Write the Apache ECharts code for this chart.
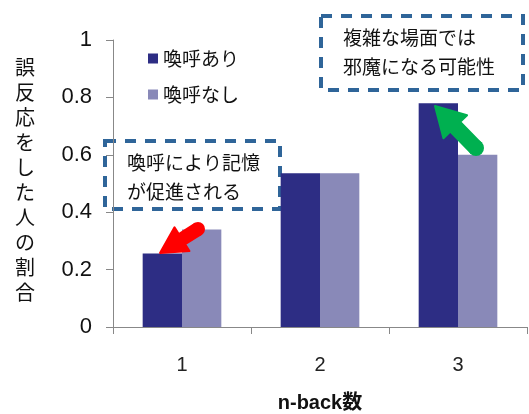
<!DOCTYPE html>
<html>
<head>
<meta charset="utf-8">
<script src="https://cdn.jsdelivr.net/npm/echarts@6/dist/echarts.min.js"></script>
<style>
  html, body { margin: 0; padding: 0; background: #fff; }
  #chart { width: 529px; height: 414px; }
</style>
</head>
<body>
<div id="chart"></div>
<script>
// n-back level vs. share of people who responded wrongly
const categories = ['1', '2', '3'];
const seriesNames = ['喚呼あり', '喚呼なし'];
const withCall = [0.256, 0.536, 0.78];
const withoutCall = [0.34, 0.536, 0.6];
const yTicks = [0, 0.2, 0.4, 0.6, 0.8, 1];

const yTitle = '誤反応をした人の割合';
const xTitle = 'n-back数';
const noteLeft = '喚呼により記憶\nが促進される';
const noteRight = '複雑な場面では\n邪魔になる可能性';

const FONT = '"Liberation Sans", Arial, "Noto Sans CJK JP", sans-serif';
const JP = '"Noto Sans CJK JP", "Liberation Sans", sans-serif';
const DARK = '#2d2d84';
const LIGHT = '#8989b8';
const BOX = '#2f6599';

// Build a block-arrow polygon from tail to tip
function arrowPoints(tail, tip, shaftW, headW, headL) {
  const dx = tip[0] - tail[0], dy = tip[1] - tail[1];
  const len = Math.hypot(dx, dy);
  const ux = dx / len, uy = dy / len;
  const nx = -uy, ny = ux;
  const bx = tip[0] - ux * headL, by = tip[1] - uy * headL;
  const p = (x, y, w) => [x + nx * w, y + ny * w];
  return [
    p(tail[0], tail[1], shaftW / 2),
    p(bx, by, shaftW / 2),
    p(bx, by, headW / 2),
    tip,
    p(bx, by, -headW / 2),
    p(bx, by, -shaftW / 2),
    p(tail[0], tail[1], -shaftW / 2)
  ];
}

function arrow(tail, tip, shaftW, headW, headL, color) {
  return [
    { type: 'polygon', z: 20, shape: { points: arrowPoints(tail, tip, shaftW, headW, headL) },
      style: { fill: color, stroke: color, lineWidth: 2, lineJoin: 'round' } },
    { type: 'circle', z: 20, shape: { cx: tail[0], cy: tail[1], r: shaftW / 2 + 1 },
      style: { fill: color } }
  ];
}

function note(x, y, w, h, text) {
  return {
    type: 'group', z: 15,
    children: [
      { type: 'rect', shape: { x: x, y: y, width: w, height: h },
        style: { fill: '#fff', stroke: BOX, lineWidth: 4, lineDash: [11, 9] } },
      { type: 'text', x: x + 22, y: y + 7,
        style: { text: text, font: '19px ' + JP, fill: '#111', lineHeight: 29 } }
    ]
  };
}

const chart = echarts.init(document.getElementById('chart'), null, { renderer: 'canvas' });

chart.setOption({
  animation: false,
  backgroundColor: '#fff',
  grid: { left: 113, right: 2, top: 40, bottom: 87, containLabel: false, outerBoundsMode: 'none' },
  legend: {
    orient: 'vertical',
    left: 143, top: 44,
    itemWidth: 10, itemHeight: 10, itemGap: 17,
    icon: 'rect',
    textStyle: { fontFamily: JP, fontSize: 19, color: '#111' },
    data: seriesNames
  },
  xAxis: {
    type: 'category',
    data: categories,
    name: xTitle,
    nameLocation: 'middle',
    nameGap: 66,
    nameTextStyle: { fontFamily: FONT, fontSize: 20, fontWeight: 'bold', color: '#111' },
    axisLine: { lineStyle: { color: '#888', width: 1 } },
    axisTick: { show: true, length: 7, lineStyle: { color: '#888' } },
    axisLabel: { fontFamily: FONT, fontSize: 20, color: '#222', margin: 28 }
  },
  yAxis: {
    type: 'value',
    min: 0, max: 1, interval: 0.2,
    axisLine: { show: true, lineStyle: { color: '#888', width: 1 } },
    axisTick: { show: true, length: 7, lineStyle: { color: '#888' } },
    splitLine: { show: false },
    axisLabel: {
      fontFamily: FONT, fontSize: 22, color: '#111', margin: 21,
      formatter: v => {
        const t = yTicks.find(k => Math.abs(k - v) < 1e-9);
        return t === undefined ? '' : String(t);
      }
    }
  },
  series: [
    { name: seriesNames[0], type: 'bar', data: withCall, barGap: 0, barCategoryGap: '43%',
      itemStyle: { color: DARK } },
    { name: seriesNames[1], type: 'bar', data: withoutCall, barGap: 0, barCategoryGap: '43%',
      itemStyle: { color: LIGHT } }
  ],
  graphic: [
    { type: 'text', left: 15, top: 55, z: 10,
      style: { text: yTitle.split('').join('\n'), font: '20px ' + JP, fill: '#111',
               lineHeight: 25, align: 'center' } },
    note(105, 141, 175, 68, noteLeft),
    note(321, 16, 202, 74, noteRight),
    ...arrow([198, 229], [160, 253], 12, 28, 26, '#ff0000'),
    ...arrow([476, 148], [435, 106], 14, 33, 29, '#00b050')
  ]
});
</script>
</body>
</html>
